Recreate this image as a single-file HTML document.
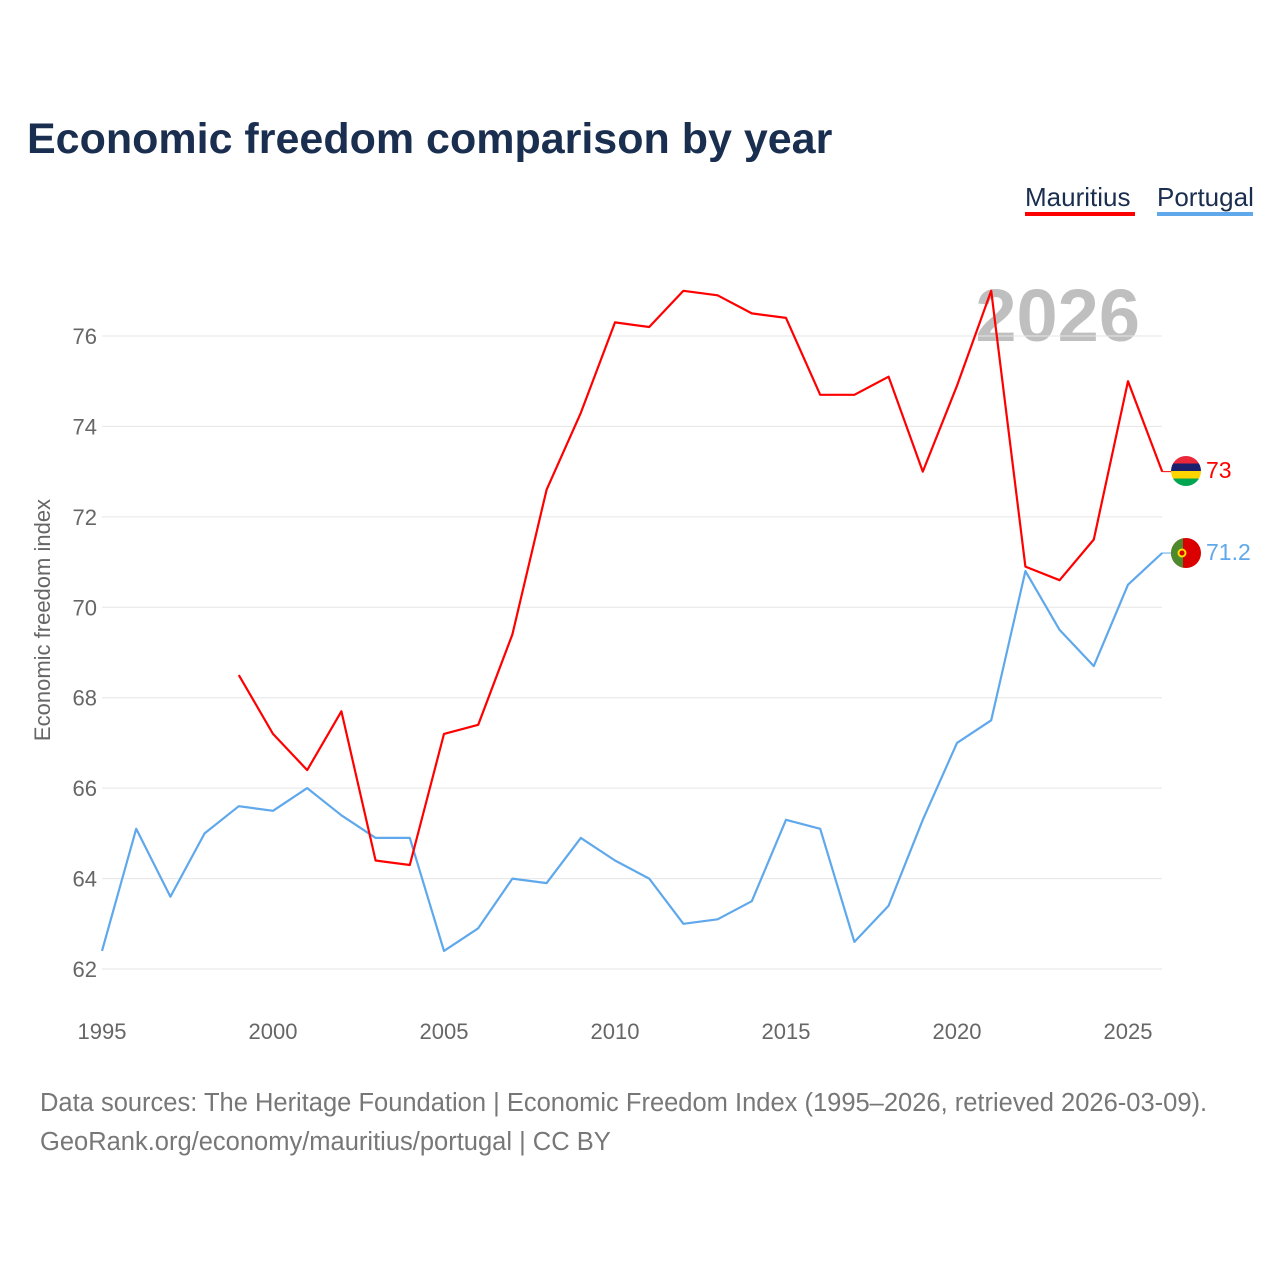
<!DOCTYPE html>
<html><head><meta charset="utf-8"><style>
body{margin:0;background:#fff;font-family:"Liberation Sans",sans-serif}
svg text{font-family:"Liberation Sans",sans-serif}
</style></head><body>
<svg width="1280" height="1280" xmlns="http://www.w3.org/2000/svg">
<rect width="1280" height="1280" fill="#fff"/>
<text x="27" y="153" font-size="43" font-weight="bold" fill="#1a2e4f">Economic freedom comparison by year</text>
<g>
<text x="1025" y="206" font-size="26" fill="#1a2e4f">Mauritius</text>
<rect x="1025" y="212" width="110" height="4" fill="#ff0000"/>
<text x="1157" y="206" font-size="26" fill="#1a2e4f">Portugal</text>
<rect x="1157" y="212" width="96" height="4" fill="#5fa8ec"/>
</g>
<text x="1140" y="341" font-size="74" font-weight="bold" fill="#bfbfbf" text-anchor="end">2026</text>
<g id="grid"></g>
<g id="yticks"></g>
<g id="xticks"></g>
<text transform="translate(50,620) rotate(-90)" font-size="22" fill="#666" text-anchor="middle">Economic freedom index</text>
<g id="series"></g>
<g>
<clipPath id="cm"><circle cx="1186" cy="471" r="15"/></clipPath>
<g clip-path="url(#cm)"><rect x="1171" y="456" width="30" height="8" fill="#ea2839"/><rect x="1171" y="463.5" width="30" height="7.5" fill="#1a206d"/><rect x="1171" y="471" width="30" height="7.5" fill="#ffd500"/><rect x="1171" y="478.5" width="30" height="8" fill="#00a551"/></g>
</g>
<g>
<clipPath id="cp"><circle cx="1186" cy="553" r="15"/></clipPath>
<g clip-path="url(#cp)"><rect x="1171" y="538" width="30" height="30" fill="#da0000"/><rect x="1171" y="538" width="12" height="30" fill="#4d8a2e"/></g>
<circle cx="1182" cy="553" r="4.5" fill="#ffe000"/><circle cx="1182" cy="553" r="2.5" fill="#da0000"/>
</g>
<text x="1206" y="478" font-size="23" fill="#ff0000">73</text>
<text x="1206" y="560" font-size="23" fill="#5fa8ec">71.2</text>
<text x="40" y="1111" font-size="25.5" fill="#777">Data sources: The Heritage Foundation | Economic Freedom Index (1995–2026, retrieved 2026-03-09).</text>
<text x="40" y="1150" font-size="25.5" fill="#777">GeoRank.org/economy/mauritius/portugal | CC BY</text>
</svg>
<script>
const years=[1995,1996,1997,1998,1999,2000,2001,2002,2003,2004,2005,2006,2007,2008,2009,2010,2011,2012,2013,2014,2015,2016,2017,2018,2019,2020,2021,2022,2023,2024,2025,2026];
const mauritius=[null,null,null,null,68.5,67.2,66.4,67.7,64.4,64.3,67.2,67.4,69.4,72.6,74.3,76.3,76.2,77.0,76.9,76.5,76.4,74.7,74.7,75.1,73.0,74.9,77.0,70.9,70.6,71.5,75.0,73.0];
const portugal=[62.4,65.1,63.6,65.0,65.6,65.5,66.0,65.4,64.9,64.9,62.4,62.9,64.0,63.9,64.9,64.4,64.0,63.0,63.1,63.5,65.3,65.1,62.6,63.4,65.3,67.0,67.5,70.8,69.5,68.7,70.5,71.2];
const yTicks=[62,64,66,68,70,72,74,76];
const xTicks=[1995,2000,2005,2010,2015,2020,2025];
const NS="http://www.w3.org/2000/svg";
const xs=y=>102+(y-1995)*(1128-102)/30;
const ys=v=>969-(v-62)*(969-336)/14;
function mk(tag,attrs,parent){const e=document.createElementNS(NS,tag);for(const k in attrs)e.setAttribute(k,attrs[k]);parent.appendChild(e);return e;}
const grid=document.getElementById('grid'),yt=document.getElementById('yticks'),xt=document.getElementById('xticks'),ser=document.getElementById('series');
yTicks.forEach(v=>{
 const l=mk('line',{x1:102,x2:1162,y1:ys(v),y2:ys(v),stroke:'#e6e6e6','stroke-width':1},grid);
 
 
 const t=mk('text',{x:97,y:ys(v)+8,'font-size':22,fill:'#666','text-anchor':'end'},yt);t.textContent=v;
 
 
});
xTicks.forEach(v=>{
 const t=mk('text',{x:xs(v),y:1039,'font-size':22,fill:'#666','text-anchor':'middle'},xt);t.textContent=v;
 
 
});
function line(vals,color,name){
 let d='';let pen=false;
 vals.forEach((v,i)=>{if(v==null){pen=false;return;}d+=(pen?'L':'M')+xs(years[i]).toFixed(1)+','+ys(v).toFixed(1);pen=true;});
 const p=mk('path',{d:d,fill:'none',stroke:color,'stroke-width':2.2,'stroke-linejoin':'round'},ser);
 
 
 const last=vals[vals.length-1];
 const c=mk('line',{x1:xs(2026),x2:1171,y1:ys(last),y2:ys(last),stroke:color,'stroke-width':1},ser);
 
 
}
line(portugal,'#5fa8ec','portugal-line');
line(mauritius,'#ff0000','mauritius-line');
</script>
</body></html>
